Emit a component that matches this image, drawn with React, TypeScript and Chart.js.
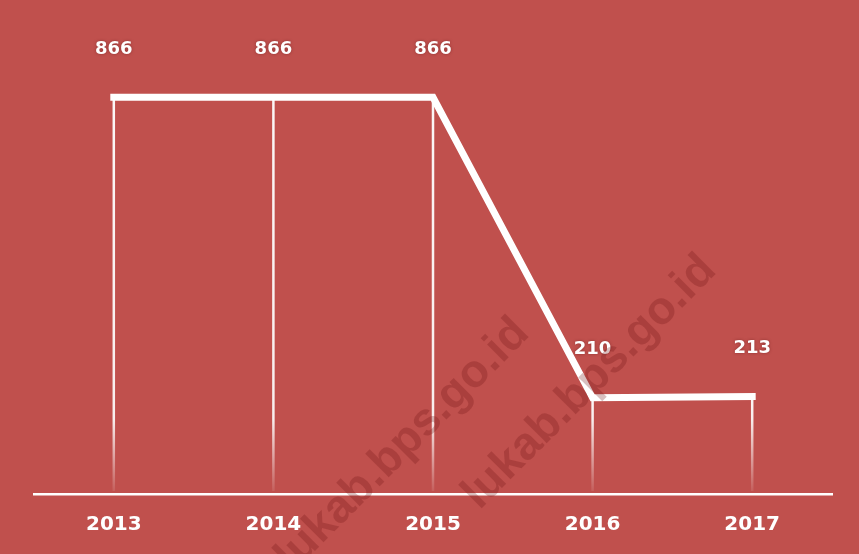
import React, { useEffect, useRef } from "react";
import { Chart, registerables } from "chart.js";

Chart.register(...registerables);

const years: string[] = ["2013", "2014", "2015", "2016", "2017"];
const values: number[] = [866, 866, 866, 210, 213];
const watermarkText = "lukab.bps.go.id";

const BG = "#C0504D";

const bgPlugin = {
  id: "bgFill",
  beforeDraw(chart: any) {
    const { ctx, width, height } = chart;
    ctx.save();
    ctx.fillStyle = BG;
    ctx.fillRect(0, 0, width, height);
    ctx.restore();
  },
};

const dropLinesPlugin = {
  id: "dropLines",
  beforeDatasetsDraw(chart: any) {
    const { ctx, chartArea } = chart;
    const meta = chart.getDatasetMeta(0);
    const bottom = chartArea.bottom;
    ctx.save();
    meta.data.forEach((pt: any) => {
      const g = ctx.createLinearGradient(0, pt.y, 0, bottom);
      const fadeStart = Math.max(0, Math.min(1, (bottom - 75 - pt.y) / (bottom - pt.y)));
      g.addColorStop(0, "rgba(255,255,255,0.95)");
      g.addColorStop(fadeStart, "rgba(255,255,255,0.9)");
      g.addColorStop(1, "rgba(255,255,255,0.05)");
      ctx.strokeStyle = g;
      ctx.lineWidth = 2.5;
      ctx.beginPath();
      ctx.moveTo(pt.x, pt.y);
      ctx.lineTo(pt.x, bottom - 3);
      ctx.stroke();
    });
    ctx.restore();
  },
};

const labelsPlugin = {
  id: "valueLabels",
  afterDatasetsDraw(chart: any) {
    const { ctx } = chart;
    const meta = chart.getDatasetMeta(0);
    ctx.save();
    ctx.font = "bold 18px 'DejaVu Sans'";
    ctx.fillStyle = "#ffffff";
    ctx.textAlign = "center";
    ctx.textBaseline = "middle";
    ctx.shadowColor = "rgba(90,20,20,0.5)";
    ctx.shadowBlur = 3;
    meta.data.forEach((pt: any, i: number) => {
      ctx.fillText(String(values[i]), pt.x, pt.y - 48);
    });
    ctx.restore();
  },
};

const watermarkPlugin = {
  id: "watermark",
  afterDraw(chart: any) {
    const { ctx } = chart;
    const anchors = [
      [522, 326],
      [709, 263],
    ];
    ctx.save();
    ctx.font = "bold 46px 'Liberation Sans'";
    ctx.fillStyle = "rgba(110,20,20,0.27)";
    ctx.textAlign = "right";
    ctx.textBaseline = "middle";
    anchors.forEach(([x, y]) => {
      ctx.save();
      ctx.translate(x, y);
      ctx.rotate((-45 * Math.PI) / 180);
      ctx.fillText(watermarkText, 0, 0);
      ctx.restore();
    });
    ctx.restore();
  },
};

export default function App() {
  const ref = useRef<HTMLCanvasElement | null>(null);

  useEffect(() => {
    document.body.style.margin = "0";
    const canvas = ref.current;
    if (!canvas) return;
    const chart = new Chart(canvas, {
      type: "line",
      data: {
        labels: years,
        datasets: [
          {
            data: values,
            borderColor: "#ffffff",
            borderWidth: 7,
            borderCapStyle: "square",
            borderJoinStyle: "miter",
            pointRadius: 0,
            tension: 0,
            fill: false,
          },
        ],
      },
      options: {
        animation: false,
        responsive: false,
        maintainAspectRatio: false,
        layout: { padding: { left: 34, right: 27, top: 36, bottom: 6 } },
        plugins: {
          legend: { display: false },
          tooltip: { enabled: false },
        },
        scales: {
          x: {
            type: "category",
            offset: true,
            grid: { display: false },
            border: { display: true, color: "#ffffff", width: 2.5 },
            ticks: {
              color: "#ffffff",
              padding: 11,
              font: { family: "'DejaVu Sans'", weight: "bold", size: 20 },
            },
          },
          y: {
            display: false,
            min: 0,
            max: 1000,
          },
        },
      },
      plugins: [bgPlugin, dropLinesPlugin, labelsPlugin, watermarkPlugin],
    });
    return () => chart.destroy();
  }, []);

  return (
    <div style={{ position: "fixed", left: 0, top: 0, width: 859, height: 554, background: BG }}>
      <canvas ref={ref} width={859} height={554} style={{ display: "block", width: 859, height: 554 }} />
    </div>
  );
}
